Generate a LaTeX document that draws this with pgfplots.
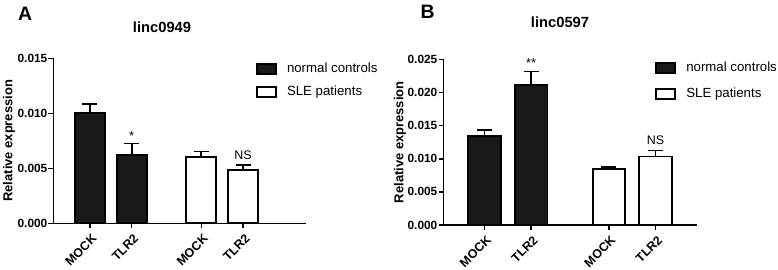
\documentclass[border=0pt]{standalone}
\usepackage{fontspec}
\setmainfont{Liberation Sans}
\usepackage{pgfplots}
\pgfplotsset{compat=1.18}

\pgfplotsset{
  panel/.style={
    scale only axis,
    anchor=south west,
    clip=false,
    axis x line*=bottom,
    axis y line*=left,
    axis line style={line width=1.5bp, black},
    tick style={line width=1.5bp, black},
    tick align=outside,
    major tick length=5bp,
    ymin=0,
    scaled y ticks=false,
    xtick={0,1,2.67,3.67},
    xticklabels={MOCK,TLR2,MOCK,TLR2},
    xticklabel style={xshift=4.5bp, yshift=-8bp, rotate=45, anchor=east, inner sep=0pt,
      font=\bfseries\fontsize{12.5}{13}\selectfont},
    yticklabel style={font=\bfseries\fontsize{11.9}{12}\selectfont, inner sep=1bp},
    ylabel={Relative expression},
    ybar,
    legend image code/.code={\draw[#1] (0bp,-5bp) rectangle (19bp,5bp);},
    legend style={draw=none, fill=none, inner sep=0pt, outer sep=0pt,
      anchor=north west,
      font=\fontsize{13.3}{14}\selectfont,
      nodes={inner sep=0pt, text height=9.6bp, text depth=2.8bp},
      /tikz/every odd column/.style={column sep=10.3bp}},
    legend cell align=left,
  },
  blackbar/.style={fill=black!90, draw=black, line width=1.7bp, bar shift=0pt,
    error bars/.cd, y dir=plus, y explicit,
    error bar style={line width=1.7bp, black},
    error mark options={rotate=90, line width=1.7bp, black, mark size=7.5bp}},
  whitebar/.style={fill=white, draw=black, line width=1.7bp, bar shift=0pt,
    error bars/.cd, y dir=plus, y explicit,
    error bar style={line width=1.7bp, black},
    error mark options={rotate=90, line width=1.7bp, black, mark size=7.5bp}},
}

\begin{document}
\begin{tikzpicture}
\useasboundingbox (0,0) rectangle (778bp,270bp);

% Panel A
\begin{axis}[panel,
  at={(53.5bp,46.7bp)},
  width=252.5bp, height=165bp,
  xmin=-0.875, xmax=5.18,
  ymax=0.015,
  ytick={0,0.005,0.010,0.015},
  yticklabels={0.000,0.005,0.010,0.015},
  bar width=30bp,
  ylabel style={at={([xshift=-44.5bp]axis description cs:0,0.5)}, anchor=center,
    font=\bfseries\fontsize{13}{13}\selectfont},
  title={linc0949},
  title style={at={(axis description cs:0.4297,1)}, anchor=base, yshift=20.3bp,
    font=\bfseries\fontsize{14.8}{15}\selectfont},
  legend style={at={(axis description cs:0.802,0.9715)}, row sep=10.6bp},
]
\addplot[blackbar] coordinates {(0,0.0100) +- (0,0.00085) (1,0.0062) +- (0,0.00105)};
\addlegendentry{normal controls}
\addplot[whitebar] coordinates {(2.67,0.0060) +- (0,0.00052) (3.67,0.00485) +- (0,0.00045)};
\addlegendentry{SLE patients}
\node[anchor=north, inner sep=0pt, font=\fontsize{13}{13}\selectfont] at (axis cs:1,0.0084) {*};
\node[anchor=center, inner sep=0pt, font=\fontsize{12.5}{13}\selectfont] at (axis cs:3.67,0.0062) {NS};
\end{axis}

% Panel B
\begin{axis}[panel,
  at={(443.5bp,45bp)},
  width=253.5bp, height=165.5bp,
  xmin=-0.88, xmax=4.56,
  ymax=0.025,
  ytick={0,0.005,0.010,0.015,0.020,0.025},
  yticklabels={0.000,0.005,0.010,0.015,0.020,0.025},
  bar width=32.5bp,
  ylabel style={at={([xshift=-43.5bp]axis description cs:0,0.5)}, anchor=center,
    font=\bfseries\fontsize{13}{13}\selectfont},
  title={linc0597},
  title style={at={(axis description cs:0.4596,1)}, anchor=base, yshift=26.5bp,
    font=\bfseries\fontsize{14.8}{15}\selectfont},
  legend style={at={(axis description cs:0.8355,0.988)}, row sep=13.6bp},
]
\addplot[blackbar] coordinates {(0,0.0134) +- (0,0.0009) (1,0.0211) +- (0,0.0021)};
\addlegendentry{normal controls}
\addplot[whitebar] coordinates {(2.67,0.0085) +- (0,0.00025) (3.67,0.01035) +- (0,0.0009)};
\addlegendentry{SLE patients}
\node[anchor=north, inner sep=0pt, font=\fontsize{13}{13}\selectfont] at (axis cs:1,0.0252) {**};
\node[anchor=center, inner sep=0pt, font=\fontsize{12.5}{13}\selectfont] at (axis cs:3.67,0.01284) {NS};
\end{axis}

\node[anchor=base west, inner sep=0pt, font=\bfseries\fontsize{19.5}{19.5}\selectfont] at (18bp,249bp) {A};
\node[anchor=base west, inner sep=0pt, font=\bfseries\fontsize{19.5}{19.5}\selectfont] at (420.5bp,251.7bp) {B};
\end{tikzpicture}
\end{document}
